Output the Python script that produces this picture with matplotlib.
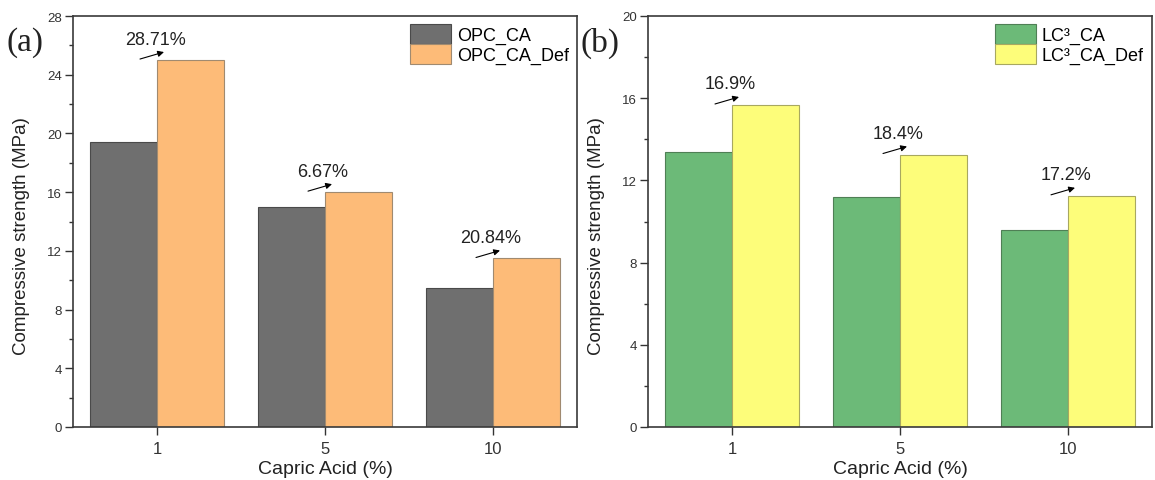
import matplotlib
matplotlib.use("Agg")
import matplotlib.pyplot as plt
import numpy as np
from matplotlib.transforms import offset_copy
from matplotlib.ticker import MultipleLocator

plt.rcParams['font.family'] = ['Liberation Sans', 'DejaVu Sans']

categories = ['1', '5', '10']
opc_ca = [19.42, 15.0, 9.5]
opc_ca_def = [25.0, 16.0, 11.48]
opc_pct = ['28.71%', '6.67%', '20.84%']
lc3_ca = [13.4, 11.2, 9.6]
lc3_ca_def = [15.67, 13.26, 11.25]
lc3_pct = ['16.9%', '18.4%', '17.2%']

fig = plt.figure(figsize=(11.55, 4.81), dpi=100)
W, H = 1155, 481

def make_axes(x0, x1, y0, y1):
    return fig.add_axes([x0 / W, 1 - y1 / H, (x1 - x0) / W, (y1 - y0) / H])

ax1 = make_axes(73, 577, 17, 428)
ax2 = make_axes(648, 1152, 17, 428)

def draw(ax, s1, s2, pct, names, colors, edges, ymax, panel, px):
    x = np.arange(len(categories))
    w = 0.4
    ax.bar(x - w / 2, s1, w, color=colors[0], edgecolor=edges[0], linewidth=0.8, label=names[0])
    ax.bar(x + w / 2, s2, w, color=colors[1], edgecolor=edges[1], linewidth=0.8, label=names[1])
    ax.set_xlim(-0.5, 2.5)
    ax.set_ylim(0, ymax)
    ax.set_xticks(x)
    ax.set_xticklabels(categories, fontsize=12)
    ax.yaxis.set_major_locator(MultipleLocator(4))
    ax.yaxis.set_minor_locator(MultipleLocator(2))
    ax.tick_params(axis='y', which='major', direction='out', length=6, width=1, labelsize=9.5, pad=2, colors='#333333')
    ax.tick_params(axis='y', which='minor', direction='out', length=3, width=1, colors='#333333')
    ax.tick_params(axis='x', which='major', direction='out', length=6, width=1, pad=4, colors='#333333')
    ax.tick_params(axis='x', which='minor', bottom=False)
    ax.tick_params(top=False, right=False)
    for sp in ax.spines.values():
        sp.set_color('#3a3a3a')
        sp.set_linewidth(1.2)
    ax.set_xlabel('Capric Acid (%)', fontsize=14, labelpad=3, color='#222222')
    ax.set_ylabel('Compressive strength (MPa)', fontsize=13.5, color='#222222')
    ax.yaxis.set_label_coords(-0.085, 0.467)
    for i, (v, t) in enumerate(zip(s2, pct)):
        head = offset_copy(ax.transData, fig=fig, x=7, y=8, units='dots')
        tail = offset_copy(ax.transData, fig=fig, x=-17, y=1, units='dots')
        ax.annotate('', xy=(i, v), xycoords=head, xytext=(i, v), textcoords=tail,
                    arrowprops=dict(arrowstyle='-|>', color='black', lw=0.8,
                                    mutation_scale=9, shrinkA=0, shrinkB=0))
        ax.annotate(t, xy=(i, v), xytext=(-2, 21), textcoords='offset pixels',
                    ha='center', va='center', fontsize=13, color='#222222')
    ax.legend(loc='upper right', frameon=False, fontsize=13, handlelength=2.3,
              handleheight=1.35, labelspacing=-0.05, handletextpad=0.3,
              borderaxespad=0.25, borderpad=0.2)
    fig.text(px / W, 1 - 43 / H, panel, fontsize=24, family='Liberation Serif',
             ha='left', va='center', color='#222222')

draw(ax1, opc_ca, opc_ca_def, opc_pct, ['OPC_CA', 'OPC_CA_Def'],
     ['#6f6f6f', '#fdbb78'], ['#4a4a4a', '#a08a70'], 28, '(a)', 6)
draw(ax2, lc3_ca, lc3_ca_def, lc3_pct, ['LC³_CA', 'LC³_CA_Def'],
     ['#6cba78', '#fdfd7a'], ['#4f7f55', '#a8a860'], 20, '(b)', 581)

fig.savefig('out.png', dpi=100)
